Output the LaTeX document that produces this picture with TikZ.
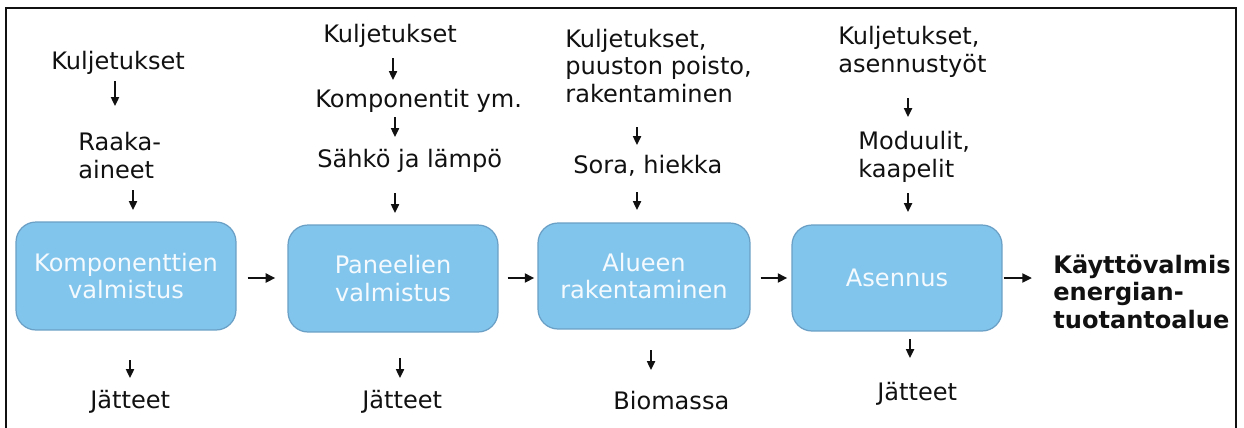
\documentclass[tikz,border=0pt]{standalone}
\usepackage{fontspec}
\setmainfont{DejaVu Sans}
\usetikzlibrary{arrows.meta}
\definecolor{boxfill}{HTML}{82C5EC}
\definecolor{boxline}{HTML}{6A9FC6}
\definecolor{boxtext}{HTML}{F4FAFE}
\definecolor{ink}{HTML}{111111}
\tikzset{
  lbl/.style={anchor=base west, inner sep=0pt, align=left, text=ink,
    font=\fontsize{13.7}{15.4}\selectfont},
  stage/.style={draw=boxline, line width=0.7pt, fill=boxfill, rounded corners=0.4cm,
    inner sep=0pt, align=center, text=boxtext, font=\fontsize{13.7}{15.4}\selectfont},
  varr/.style={draw=ink, line width=1.1pt, -{Triangle[length=5pt,width=4.5pt]}},
  harr/.style={draw=ink, line width=1.4pt, -{Triangle[length=5.5pt,width=5pt]}},
  frame/.style={draw=ink, line width=1.3pt}
}
\begin{document}
\begin{tikzpicture}[x=0.02cm,y=-0.02cm]
\useasboundingbox (0,0) rectangle (1244,427);
% frame (open at bottom)
\coordinate (fbl) at (6,440);
\coordinate (ftl) at (6,8);
\coordinate (ftr) at (1236,8);
\coordinate (fbr) at (1236,440);
\begin{scope}
\clip (0,0) rectangle (1244,427);
\draw[frame] (fbl) -- (ftl) -- (ftr) -- (fbr);
\end{scope}
% stages
\node[stage, minimum width=4.4cm, minimum height=2.16cm] (b1) at (126,276) {Komponenttien\\valmistus};
\node[stage, minimum width=4.2cm, minimum height=2.14cm] (b2) at (393,278.5) {Paneelien\\valmistus};
\node[stage, minimum width=4.24cm, minimum height=2.12cm] (b3) at (644,276) {Alueen\\rakentaminen};
\node[stage, minimum width=4.2cm, minimum height=2.12cm] (b4) at (897,278) {Asennus};
% labels (multi-line labels: base anchor = last line's baseline)
\node[lbl] (k1) at (51,69) {Kuljetukset};
\node[lbl] (r1) at (78,178) {Raaka-\\aineet};
\node[lbl] (j1) at (90,408) {Jätteet};
\node[lbl] (k2) at (323,42) {Kuljetukset};
\node[lbl] (c2) at (315,107) {Komponentit ym.};
\node[lbl] (s2) at (317,167) {Sähkö ja lämpö};
\node[lbl] (j2) at (362,408) {Jätteet};
\node[lbl] (k3) at (565,102) {Kuljetukset,\\puuston poisto,\\rakentaminen};
\node[lbl] (s3) at (573,173) {Sora, hiekka};
\node[lbl] (m3) at (613,409) {Biomassa};
\node[lbl] (k4) at (838,72) {Kuljetukset,\\asennustyöt};
\node[lbl] (m4) at (858,177) {Moduulit,\\kaapelit};
\node[lbl] (j4) at (877,400) {Jätteet};
\node[lbl, font=\fontsize{13.7}{15.4}\selectfont\bfseries] (out) at (1053,328) {Käyttövalmis\\energian-\\tuotantoalue};
% vertical arrow end points
\coordinate (v1a) at (115,81);  \coordinate (v1b) at (115,106);
\coordinate (v1c) at (133,190); \coordinate (v1d) at (133,210);
\coordinate (v1e) at (130,360); \coordinate (v1f) at (130,378);
\coordinate (v2a) at (393,58);  \coordinate (v2b) at (393,80);
\coordinate (v2c) at (395,117); \coordinate (v2d) at (395,137);
\coordinate (v2e) at (395,193); \coordinate (v2f) at (395,213);
\coordinate (v2g) at (400,358); \coordinate (v2h) at (400,378);
\coordinate (v3a) at (637,127); \coordinate (v3b) at (637,145);
\coordinate (v3c) at (637,192); \coordinate (v3d) at (637,210);
\coordinate (v3e) at (651,350); \coordinate (v3f) at (651,370);
\coordinate (v4a) at (908,98);  \coordinate (v4b) at (908,117);
\coordinate (v4c) at (908,193); \coordinate (v4d) at (908,212);
\coordinate (v4e) at (910,339); \coordinate (v4f) at (910,358);
\draw[varr] (v1a) -- (v1b);
\draw[varr] (v1c) -- (v1d);
\draw[varr] (v1e) -- (v1f);
\draw[varr] (v2a) -- (v2b);
\draw[varr] (v2c) -- (v2d);
\draw[varr] (v2e) -- (v2f);
\draw[varr] (v2g) -- (v2h);
\draw[varr] (v3a) -- (v3b);
\draw[varr] (v3c) -- (v3d);
\draw[varr] (v3e) -- (v3f);
\draw[varr] (v4a) -- (v4b);
\draw[varr] (v4c) -- (v4d);
\draw[varr] (v4e) -- (v4f);
% horizontal arrows between stages
\coordinate (h1) at (236,278);  \coordinate (h2) at (288,278);
\coordinate (h3) at (498,278);  \coordinate (h4) at (538,278);
\coordinate (h5) at (750,278);  \coordinate (h6) at (792,278);
\coordinate (h7) at (1002,278); \coordinate (oute) at (1032,278);
\draw[harr, shorten <=0.22cm, shorten >=0.24cm] (b1.east |- h1) -- (b2.west |- h2);
\draw[harr, shorten <=0.18cm, shorten >=0.06cm] (b2.east |- h3) -- (b3.west |- h4);
\draw[harr, shorten <=0.2cm, shorten >=0.08cm] (b3.east |- h5) -- (b4.west |- h6);
\draw[harr, shorten <=0.02cm] (b4.east |- h7) -- (oute);
\end{tikzpicture}
\end{document}
